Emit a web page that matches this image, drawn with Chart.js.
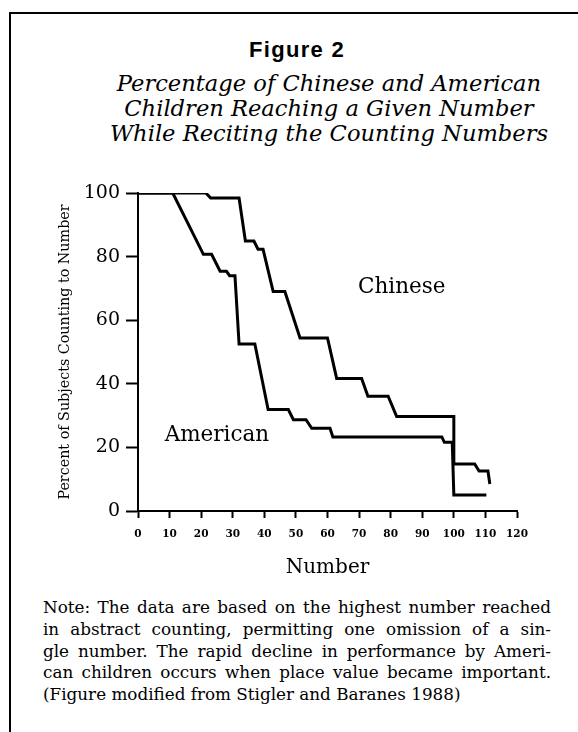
<!DOCTYPE html>
<html><head><meta charset="utf-8">
<script src="https://cdn.jsdelivr.net/npm/chart.js@4.4.0/dist/chart.umd.min.js"></script>
<style>
html,body{margin:0;padding:0;background:#fff;}
body{width:578px;height:732px;position:relative;overflow:hidden;font-family:"DejaVu Serif",serif;color:#000;}
#topline{position:absolute;left:9px;top:12px;width:569px;height:2px;background:#000;}
#leftline{position:absolute;left:9px;top:12px;width:2px;height:720px;background:#000;}
#fig{position:absolute;left:0;width:594px;top:37px;text-align:center;font:bold 22px "Liberation Sans",Arial,sans-serif;letter-spacing:1.3px;line-height:26px;}
#title{position:absolute;left:60px;width:538px;top:71px;text-align:center;font:italic 22.6px "DejaVu Serif",serif;line-height:25px;}
#chartbox{position:absolute;left:0;top:150px;width:578px;height:430px;}
#note{position:absolute;left:43px;top:597px;width:508px;font:16.8px "DejaVu Serif",serif;line-height:21.8px;}
#note .j{text-align:justify;text-align-last:justify;}
</style></head>
<body>
<div id="topline"></div>
<div id="leftline"></div>
<div id="fig">Figure 2</div>
<div id="title">Percentage of Chinese and American<br>Children Reaching a Given Number<br>While Reciting the Counting Numbers</div>
<div id="chartbox"><canvas id="c"></canvas></div>
<div id="note">
<div class="j">Note: The data are based on the highest number reached</div>
<div class="j">in abstract counting, permitting one omission of a sin-</div>
<div class="j">gle number. The rapid decline in performance by Ameri-</div>
<div class="j">can children occurs when place value became important.</div>
<div>(Figure modified from Stigler and Baranes 1988)</div>
</div>
<script>
// Data
const chineseX = [0, 21.5, 23, 32, 34, 36.7, 38, 39.6, 42.8, 46.5, 51.3, 60, 62.9, 70.8, 72.8, 79.2, 81.9, 100, 100, 106.6, 108, 110.8, 111.4];
const chineseY = [100, 100, 98.4, 98.4, 84.9, 84.9, 82.3, 82.3, 69, 69, 54.4, 54.4, 41.7, 41.7, 36.1, 36.1, 29.7, 29.7, 14.8, 14.8, 12.6, 12.6, 8.5];
const americanX = [0, 11, 20.7, 23.3, 26, 28, 29, 30.7, 32, 37, 41.2, 47.6, 49.2, 53.2, 55, 60.8, 61.7, 96.2, 97, 99.5, 100, 110.3];
const americanY = [100, 100, 80.7, 80.7, 75.4, 75.4, 74, 74, 52.5, 52.5, 31.9, 31.9, 28.7, 28.7, 26, 26, 23.3, 23.3, 21.6, 21.6, 5, 5];
const xTicks = [0, 10, 20, 30, 40, 50, 60, 70, 80, 90, 100, 110, 120];
const yTicks = [0, 20, 40, 60, 80, 100];
const seriesNames = ['Chinese', 'American'];
const nameX = [83.5, 25];
const nameY = [70.3, 23.7];

const toPts = (xs, ys) => xs.map((x, i) => ({x: x, y: ys[i]}));

const inlineLabels = {
  id: 'inlineLabels',
  afterDatasetsDraw(chart) {
    const {ctx, scales: {x, y}} = chart;
    ctx.save();
    ctx.font = '21.5px "DejaVu Serif", serif';
    ctx.fillStyle = '#000';
    ctx.textAlign = 'center';
    ctx.textBaseline = 'middle';
    seriesNames.forEach((t, i) => ctx.fillText(t, x.getPixelForValue(nameX[i]), y.getPixelForValue(nameY[i])));
    ctx.restore();
  }
};

new Chart(document.getElementById('c'), {
  type: 'scatter',
  data: {
    datasets: [
      {label: seriesNames[0], data: toPts(chineseX, chineseY), showLine: true, borderColor: '#000', borderWidth: 3, pointRadius: 0, tension: 0, fill: false},
      {label: seriesNames[1], data: toPts(americanX, americanY), showLine: true, borderColor: '#000', borderWidth: 3, pointRadius: 0, tension: 0, fill: false}
    ]
  },
  options: {
    responsive: true, maintainAspectRatio: false, animation: false, devicePixelRatio: 1,
    layout: {padding: {left: 20, right: 61, top: 43, bottom: 0}},
    plugins: {legend: {display: false}, tooltip: {enabled: false}, title: {display: false}},
    scales: {
      x: {
        type: 'linear', min: 0, max: 120,
        afterBuildTicks: s => { s.ticks = xTicks.map(v => ({value: v})); },
        afterFit: s => { s.height = 69; },
        ticks: {font: {family: 'DejaVu Serif', weight: 'bold', size: 10.5}, color: '#000', padding: 10, maxRotation: 0, autoSkip: false},
        grid: {drawOnChartArea: false, drawTicks: true, tickLength: 7, tickColor: '#000', tickWidth: 2},
        border: {display: true, color: '#000', width: 2},
        title: {display: true, text: 'Number', color: '#000', font: {family: 'DejaVu Serif', size: 20, lineHeight: 1.2}, padding: {top: 0, bottom: 0}}
      },
      y: {
        type: 'linear', min: 0, max: 100,
        afterBuildTicks: s => { s.ticks = yTicks.map(v => ({value: v})); },
        afterFit: s => { s.width = 118; },
        ticks: {font: {family: 'DejaVu Serif', size: 19}, color: '#000', padding: 6},
        grid: {drawOnChartArea: false, drawTicks: true, tickLength: 12, tickColor: '#000', tickWidth: 2},
        border: {display: true, color: '#000', width: 2},
        title: {display: true, text: 'Percent of Subjects Counting to Number', color: '#000', font: {family: 'DejaVu Serif', size: 14.3, lineHeight: 1.2}, padding: {top: 36.4, bottom: 0}}
      }
    }
  },
  plugins: [inlineLabels]
});
</script>
</body></html>
